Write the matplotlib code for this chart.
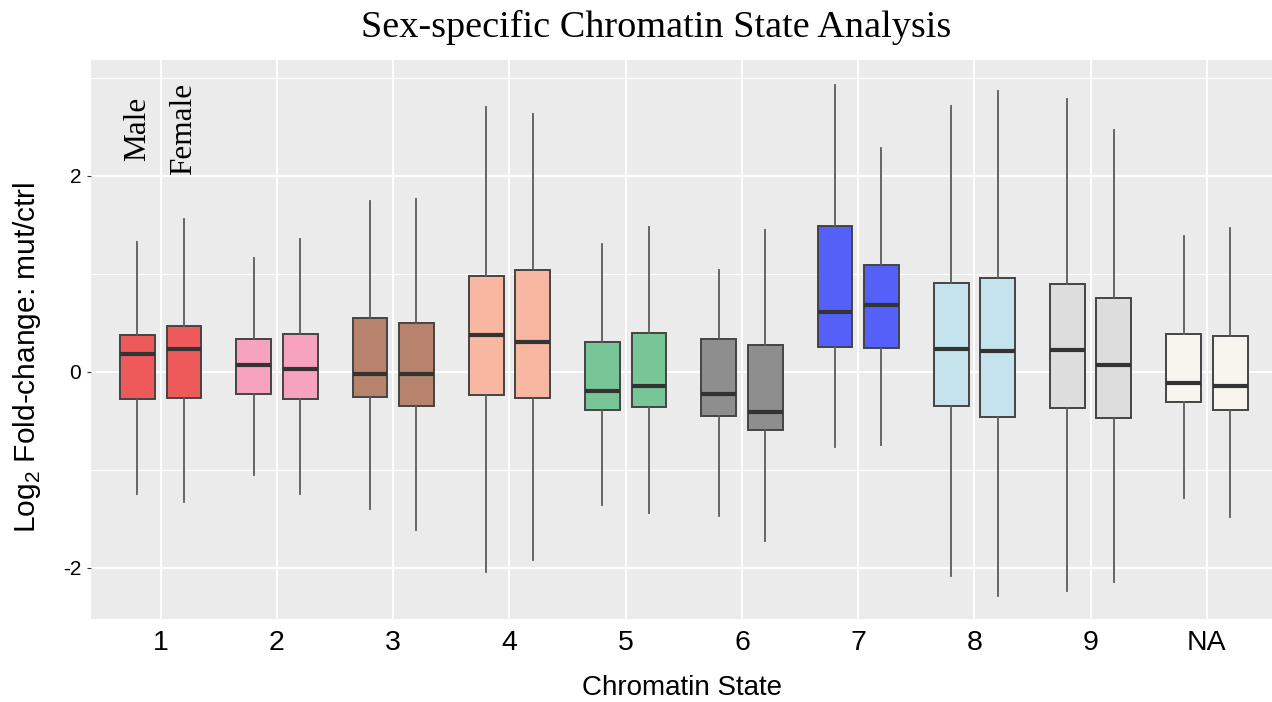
import matplotlib
matplotlib.use('Agg')
from matplotlib import pyplot as plt
from matplotlib.ticker import MultipleLocator

# chromatin states (groups)
states = ['1', '2', '3', '4', '5', '6', '7', '8', '9', 'NA']
fills = ['#EE5A5A', '#F7A2BE', '#B8836D', '#F8B7A0', '#78C698',
         '#8E8E8E', '#5560F8', '#C4E3EC', '#DDDDDD', '#F8F4EE']

# box stats, male
m_lo  = [-1.25, -1.05, -1.40, -2.04, -1.36, -1.47, -0.77, -2.08, -2.24, -1.29]
m_q1  = [-0.28, -0.23, -0.26, -0.24, -0.39, -0.45,  0.25, -0.35, -0.37, -0.31]
m_med = [ 0.18,  0.07, -0.02,  0.37, -0.20, -0.23,  0.61,  0.23,  0.22, -0.12]
m_q3  = [ 0.375, 0.335, 0.545, 0.98,  0.30,  0.33,  1.49,  0.90,  0.89,  0.38]
m_hi  = [ 1.32,  1.16,  1.74,  2.70,  1.30,  1.04,  2.93,  2.71,  2.78,  1.38]

# female
f_lo  = [-1.33, -1.25, -1.61, -1.92, -1.44, -1.73, -0.75, -2.29, -2.15, -1.48]
f_q1  = [-0.27, -0.28, -0.35, -0.27, -0.36, -0.59,  0.24, -0.46, -0.47, -0.39]
f_med = [ 0.23,  0.03, -0.02,  0.30, -0.15, -0.41,  0.68,  0.21,  0.07, -0.15]
f_q3  = [ 0.47,  0.38,  0.50,  1.04,  0.39,  0.27,  1.09,  0.96,  0.75,  0.36]
f_hi  = [ 1.56,  1.35,  1.76,  2.63,  1.48,  1.45,  2.28,  2.86,  2.47,  1.47]

OFF = 0.2
BW = 0.30
SERIF = ['Liberation Serif', 'DejaVu Serif']
SANS = ['Liberation Sans', 'DejaVu Sans']

def stats(lo, q1, med, q3, hi):
    return [dict(whislo=a, q1=b, med=c, q3=d, whishi=e, fliers=[])
            for a, b, c, d, e in zip(lo, q1, med, q3, hi)]

fig = plt.figure(figsize=(12.72, 7.02), dpi=100)
ax = fig.add_axes([91 / 1272, 83.3 / 702, 1181 / 1272, 558.7 / 702])
ax.set_facecolor('#EBEBEB')

xs = list(range(1, len(states) + 1))
for sts, shift in [(stats(m_lo, m_q1, m_med, m_q3, m_hi), -OFF),
                   (stats(f_lo, f_q1, f_med, f_q3, f_hi), OFF)]:
    bp = ax.bxp(sts, positions=[x + shift for x in xs], widths=BW,
                showfliers=False, showcaps=False, patch_artist=True,
                manage_ticks=False,
                boxprops=dict(edgecolor='#444444', linewidth=1.4),
                whiskerprops=dict(color='#5A5A5A', linewidth=1.3),
                medianprops=dict(color='#333333', linewidth=3.0,
                                 solid_capstyle='butt'))
    for patch, c in zip(bp['boxes'], fills):
        patch.set_facecolor(c)
    for art in bp['boxes'] + bp['medians'] + bp['whiskers']:
        art.set_zorder(3)

ax.set_xlim(0.4, 10.56)
ax.set_ylim(-2.52, 3.18)
ax.set_xticks(xs)
ax.set_xticklabels(states, family=SANS, fontsize=20.5)
ax.yaxis.set_minor_locator(MultipleLocator(1))
ax.set_yticks([-2, 0, 2])
ax.set_yticklabels(['-2', '0', '2'], family=SANS, fontsize=15)
ax.grid(which='major', color='white', linewidth=1.4, zorder=0)
ax.grid(which='minor', axis='y', color='white', linewidth=0.7, zorder=0)
ax.set_axisbelow(True)
ax.tick_params(axis='x', length=0, pad=8)
ax.tick_params(axis='y', which='major', length=3, color='#333333', pad=4)
ax.tick_params(axis='y', which='minor', length=0)
for s in ax.spines.values():
    s.set_visible(False)

ax.set_xlabel('Chromatin State', family=SANS, fontsize=20)
ax.xaxis.set_label_coords(0.5, -56 / 558.7)
ax.set_ylabel(r'Log$_\mathregular{2}$ Fold-change: mut/ctrl',
              family=SANS, fontsize=21.5)
ax.yaxis.set_label_coords(-48 / 1181, 0.468)

# sex labels over the first pair
ax.text(1 - OFF, 2.48, 'Male', rotation=90, ha='center', va='center',
        family=SERIF, fontsize=22.5)
ax.text(1 + OFF, 2.48, 'Female', rotation=90, ha='center', va='center',
        family=SERIF, fontsize=22.5)

fig.text(656 / 1272, 1 - 27 / 702, 'Sex-specific Chromatin State Analysis',
         ha='center', va='center', family=SERIF, fontsize=27.5)

fig.savefig('out.png', dpi=100)
